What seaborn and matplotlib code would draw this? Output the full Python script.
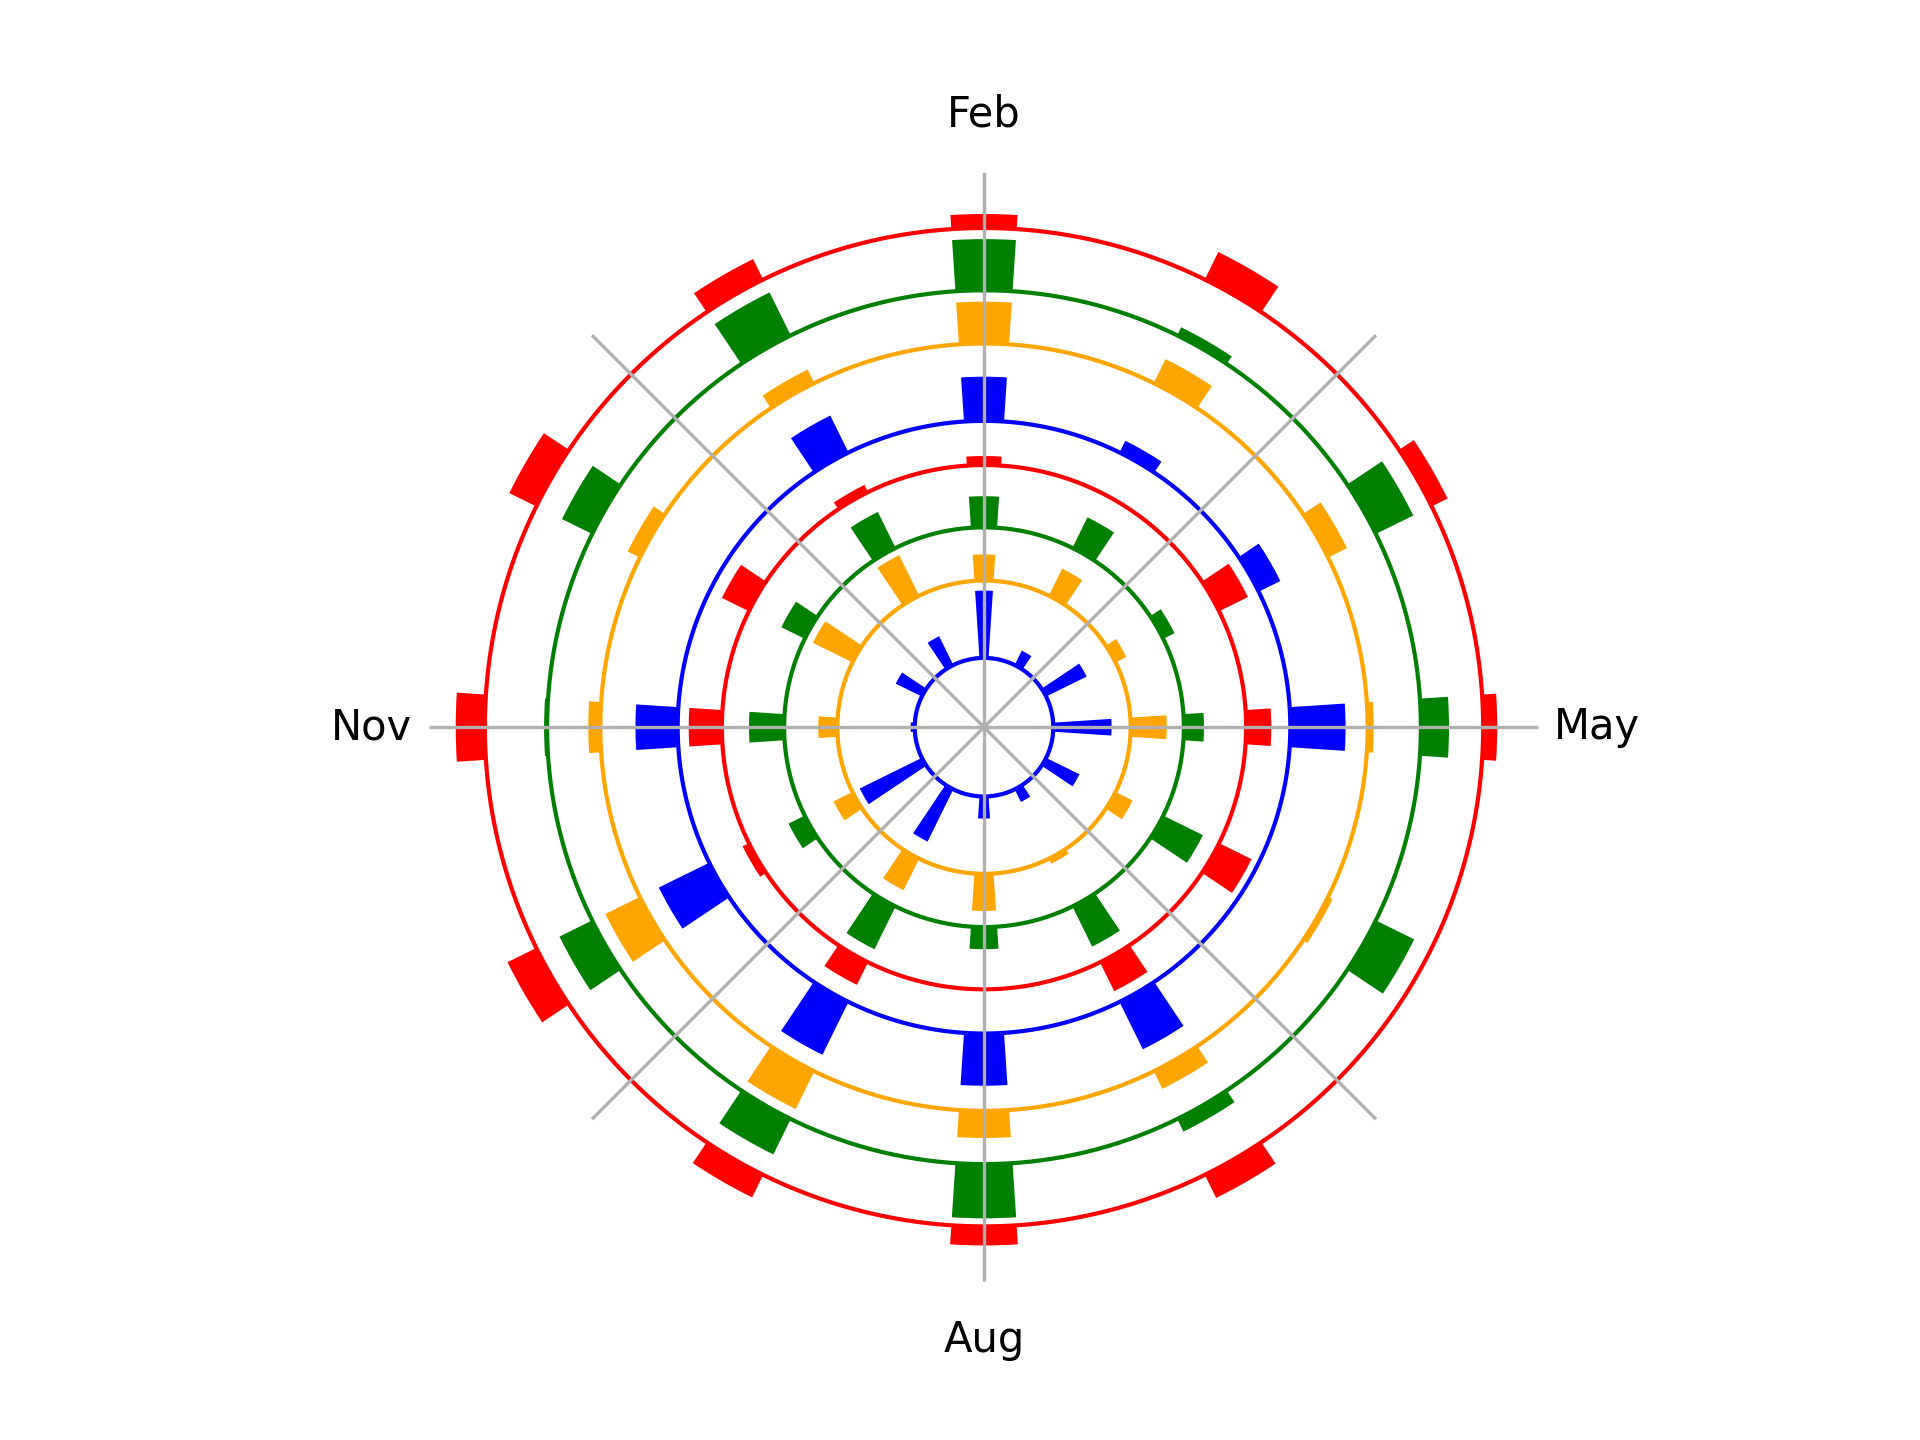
import numpy as np
import matplotlib
matplotlib.use("Agg")
import matplotlib.pyplot as plt
import seaborn as sns

months = ['Jan', 'Feb', 'Mar', 'Apr', 'May', 'Jun',
          'Jul', 'Aug', 'Sep', 'Oct', 'Nov', 'Dec']
series_names = ['blue', 'orange', 'green', 'red']

# year 1 (inner set of rings)
blue_y1   = [32, 67, 16, 45, 58, 37, 14, 22, 58, 69, 4, 29]
orange_y1 = [45, 26, 30, 12, 36, 19, 5.5, 37, 35, 21, 19, 44]
green_y1  = [40, 31, 34, 12.5, 20, 44, 44.5, 22, 47.5, 18, 35, 26]
red_y1    = [8, 9, 0, 32, 25, 36, 32, 1, 25, 7, 33, 30]
# year 2 (outer set of rings)
blue_y2   = [41, 44, 13, 24, 55, 0, 52.6, 52, 58.7, 56, 42, 0]
orange_y2 = [15, 41.7, 26.6, 21, 6, 5, 19.5, 27, 42, 38.4, 12, 13.6]
green_y2  = [47.7, 51, 9, 41.6, 28, 42.6, 14, 54, 39.3, 36.3, 3, 33.5]
red_y2    = [22.7, 14, 30.5, 17.7, 14, 0, 25.6, 19, 25, 32, 29, 30]

tick_labels = ['Feb', '', 'May', '', 'Aug', '', 'Nov', '']

years = [
    [blue_y1, orange_y1, green_y1, red_y1],
    [blue_y2, orange_y2, green_y2, red_y2],
]

palette = sns.color_palette(['blue', 'orange', 'green', 'red'])

inner_radius = 69
gap = 8
spans = [max(max(years[0][s]), max(years[1][s])) + gap for s in range(4)]
year_span = sum(spans)

fig = plt.figure(figsize=(6.4, 4.8), dpi=300)
ax = fig.add_subplot(111, projection='polar')
ax.set_theta_zero_location('N')
ax.set_theta_direction(-1)

theta = np.array([(i - 1) * 2 * np.pi / 12 for i in range(len(months))])
width = np.pi / 24
circle_t = np.linspace(0, 2 * np.pi, 721)

for y, year in enumerate(years):
    for s, vals in enumerate(year):
        base = inner_radius + y * year_span + sum(spans[:s])
        ax.bar(theta, vals, width=width, bottom=base, color=palette[s],
               linewidth=0, zorder=1)
        ax.plot(circle_t, np.full_like(circle_t, base), color=palette[s],
                lw=1.0, zorder=1.2)

max_r = max(inner_radius + y * year_span + sum(spans[:s]) + max(years[y][s])
            for y in range(2) for s in range(4))
min_r = inner_radius
ax.set_ylim(0, max_r + 0.05 * (max_r - min_r))

ax.set_xticks(np.deg2rad(np.arange(0, 360, 45)))
ax.set_xticklabels(tick_labels)
ax.set_yticks([])
ax.spines['polar'].set_visible(False)
ax.grid(True, color='#b0b0b0', linewidth=0.8, zorder=2.5)
ax.set_axisbelow(False)

fig.savefig('out.png', dpi=300)
